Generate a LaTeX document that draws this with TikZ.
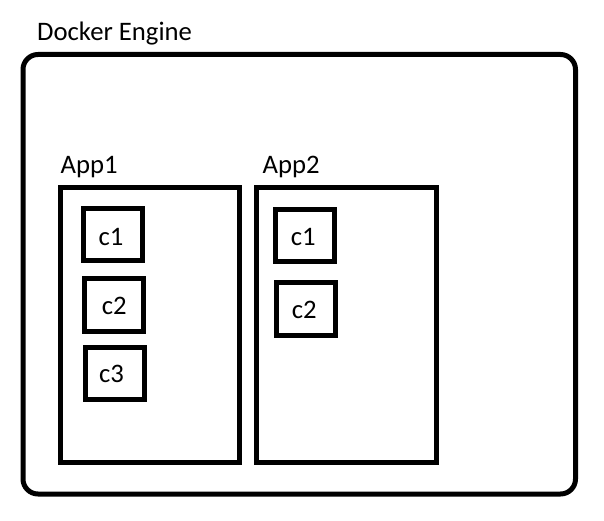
\documentclass[tikz,border=0pt]{standalone}
\usepackage{fontspec}
\setmainfont{Carlito}
\begin{document}
\begin{tikzpicture}[x=1pt,y=-1pt,
  boxline/.style={draw=black,line width=5pt},
  appbox/.style={boxline,rectangle,inner sep=0pt,minimum width=179.5pt,minimum height=274.5pt},
  cbox/.style={boxline,rectangle,inner sep=0pt,minimum width=58.8pt,minimum height=52.5pt},
  lbl/.style={inner sep=0pt,anchor=base west,font=\fontsize{26.7}{30}\selectfont}]
\useasboundingbox (0,0) rectangle (604,521);
\node[boxline,rectangle,rounded corners=15pt,inner sep=0pt,minimum width=552.5pt,minimum height=439.5pt] (engine) at (299.25,274.25) {};
\node[lbl] (enginelbl) at (37,40.7) {Docker Engine};
\node[appbox] (app1) at (149.75,325.25) {};
\node[appbox] (app2) at (346.25,325.25) {};
\node[lbl] (app1lbl) at (60.5,173.3) {App1};
\node[lbl] (app2lbl) at (262.5,173.3) {App2};
\node[cbox] (a1c1) at (113,234.5) {};
\node[cbox] (a1c2) at (113.9,304.75) {};
\node[cbox] (a1c3) at (115,373.5) {};
\node[cbox] (a2c1) at (304.75,235.5) {};
\node[cbox] (a2c2) at (305.75,309) {};
\node[lbl] (a1c1lbl) at (98.3,245) {c1};
\node[lbl] (a1c2lbl) at (101.7,314.3) {c2};
\node[lbl] (a1c3lbl) at (99,382.7) {c3};
\node[lbl] (a2c1lbl) at (290.7,245) {c1};
\node[lbl] (a2c2lbl) at (291.7,318.3) {c2};
\end{tikzpicture}
\end{document}
